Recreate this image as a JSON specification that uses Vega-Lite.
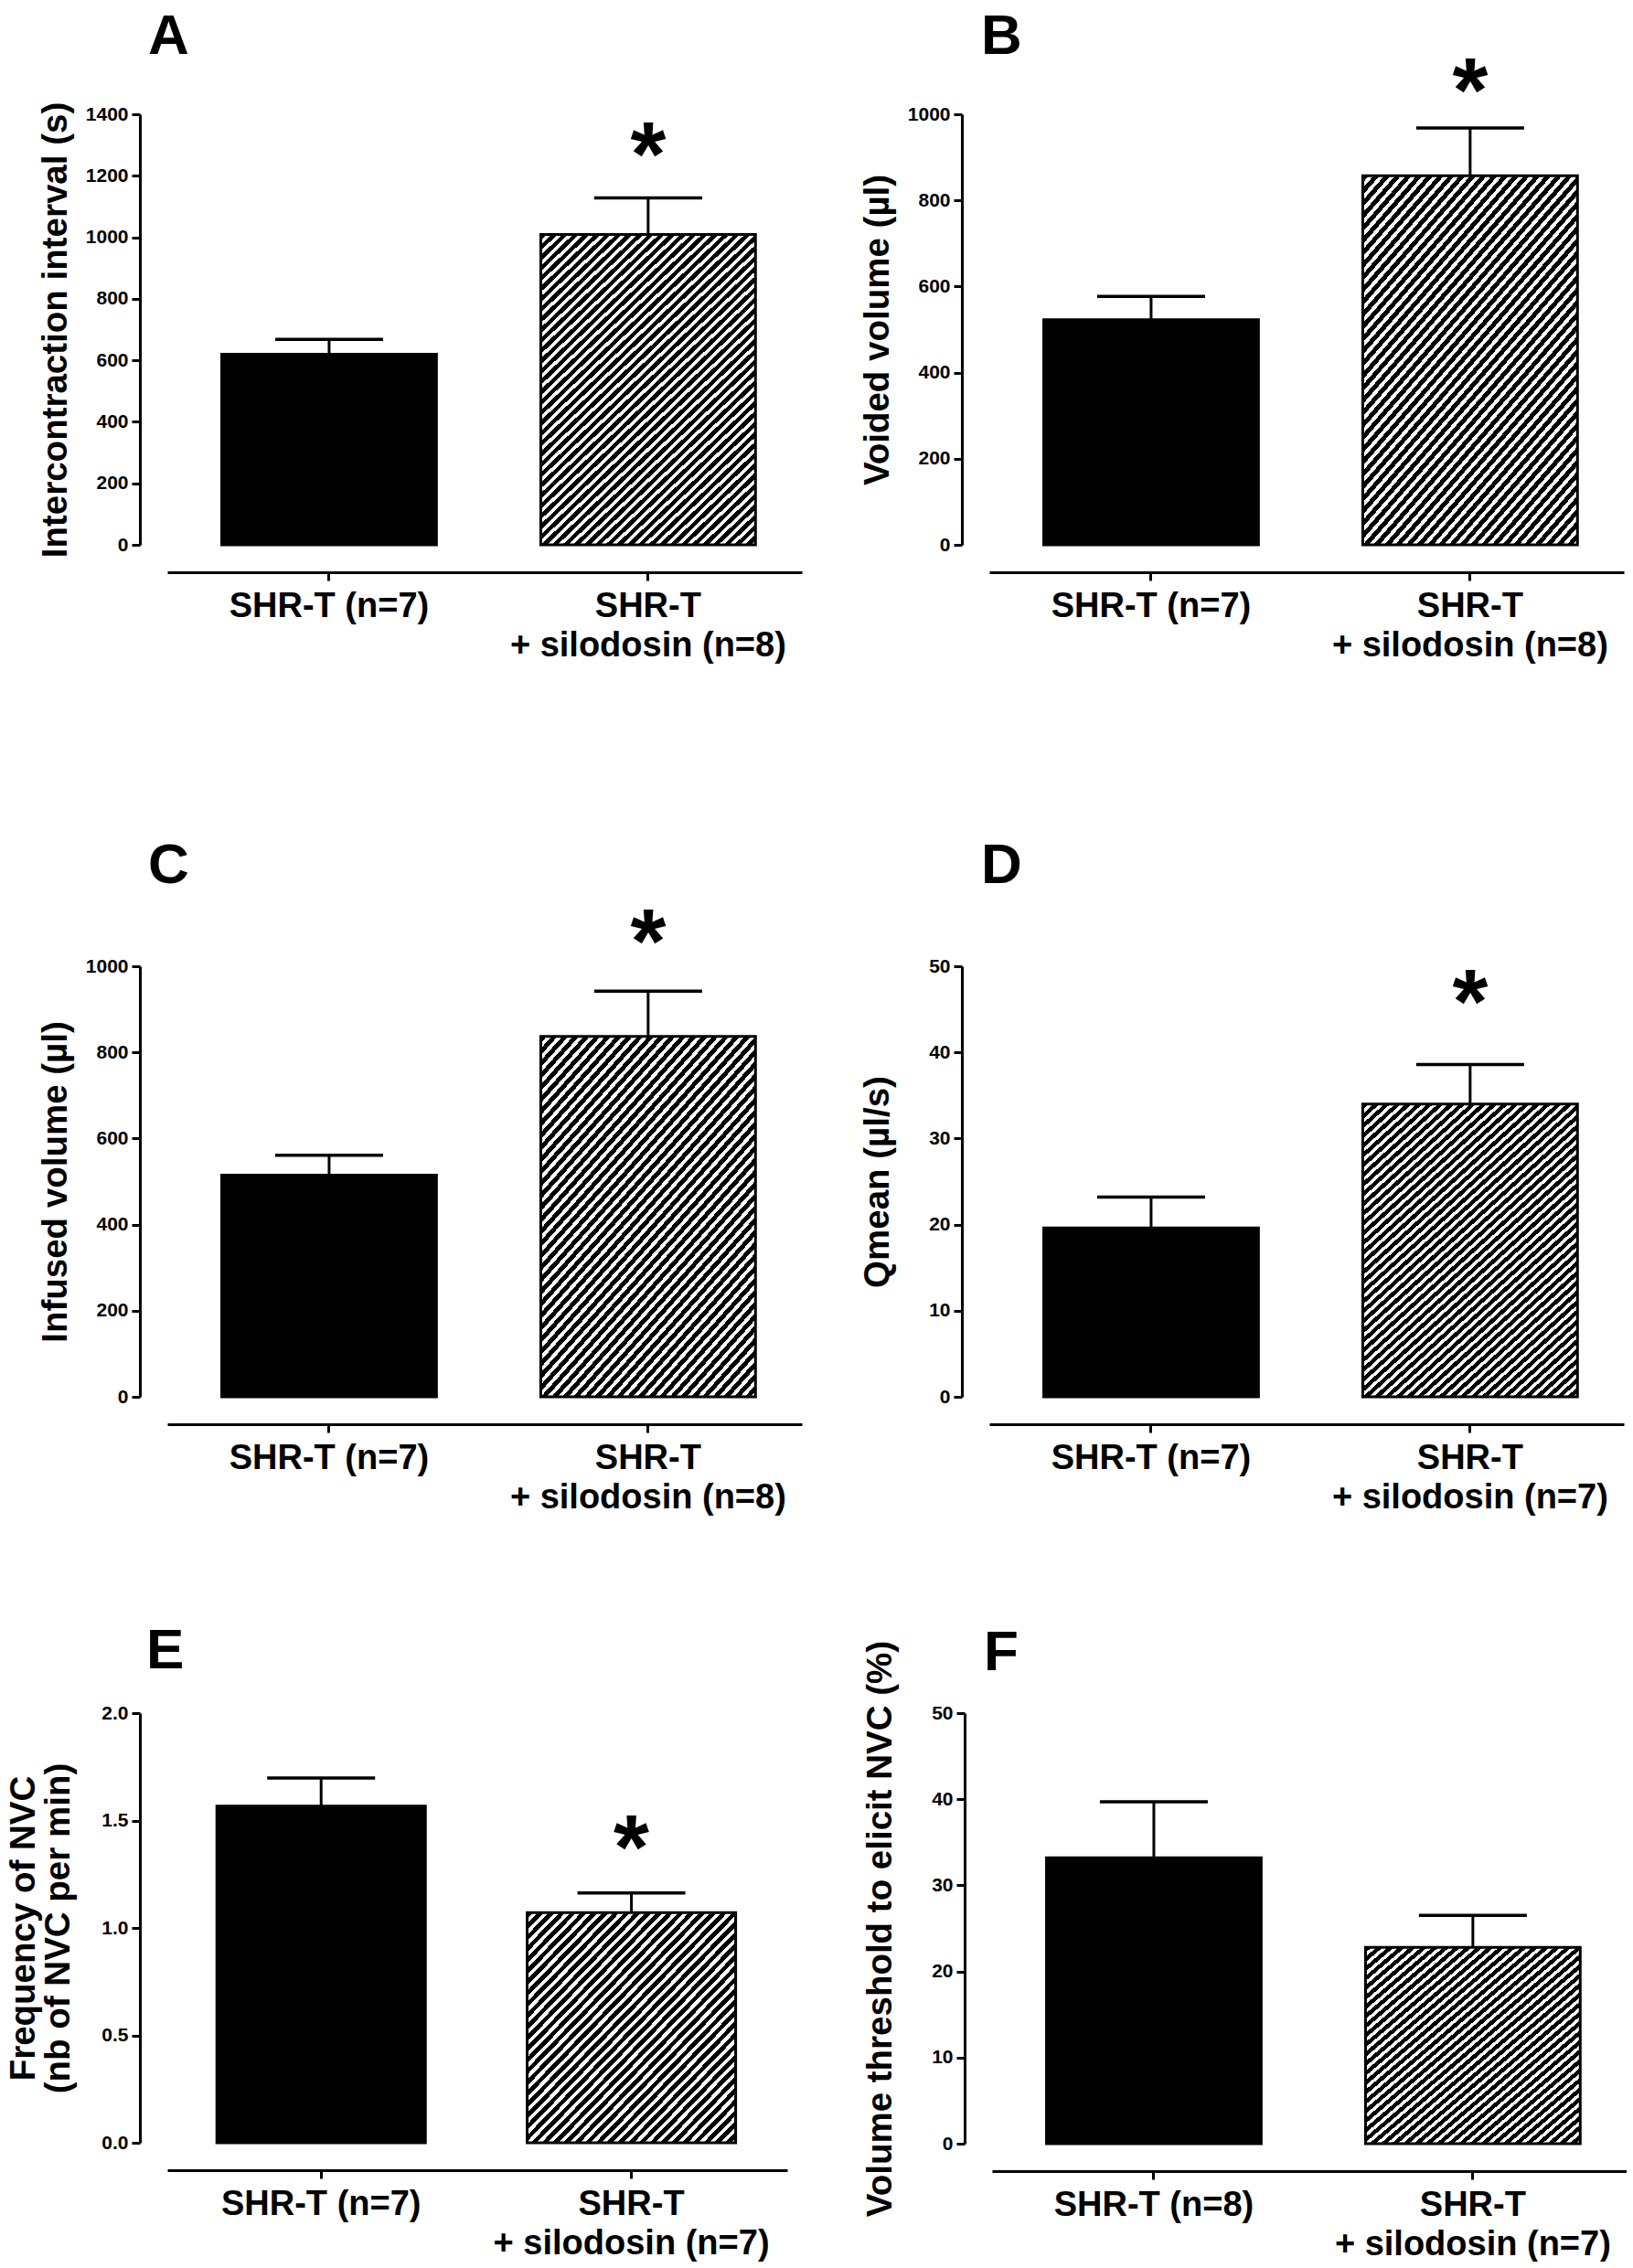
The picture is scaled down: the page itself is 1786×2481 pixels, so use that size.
{
  "$schema": "https://vega.github.io/schema/vega-lite/v6.json",
  "padding": {"top": 9, "left": 5, "right": 0, "bottom": 0},
  "background": "white",
  "spacing": 117,
  "config": {
    "font": "Liberation Sans",
    "view": {"stroke": null},
    "axis": {"grid": false, "domainColor": "black", "domainWidth": 3, "tickColor": "black", "tickWidth": 3, "tickSize": 9, "labelColor": "black", "labelFont": "Liberation Sans", "labelFontWeight": "bold", "titleColor": "black", "titleFont": "Liberation Sans", "titleFontWeight": "bold", "titleFontSize": 38.5, "offset": 30},
    "axisY": {"labelFontSize": 21, "labelPadding": 4, "titleBaseline": "alphabetic", "titleLineHeight": 38},
    "axisX": {"labelFontSize": 38, "labelPadding": 9, "labelLineHeight": 43, "labelAngle": 0, "labelLimit": 0, "labelOverlap": false},
    "title": {"fontSize": 62, "fontWeight": "bold", "font": "Liberation Sans", "anchor": "start", "frame": "group", "baseline": "alphabetic", "color": "black"},
    "text": {"font": "Liberation Sans"},
    "style": {
      "hatchAD": {"color": {"gradient": "linear", "x1": 0, "y1": 0, "x2": 0.7692, "y2": 1.1538, "stops": [
        {"offset":0,"color":"#000"},{"offset":0.0112,"color":"#000"},{"offset":0.0112,"color":"#fff"},{"offset":0.02,"color":"#fff"},
        {"offset":0.02,"color":"#000"},{"offset":0.0312,"color":"#000"},{"offset":0.0312,"color":"#fff"},{"offset":0.04,"color":"#fff"},
        {"offset":0.04,"color":"#000"},{"offset":0.0512,"color":"#000"},{"offset":0.0512,"color":"#fff"},{"offset":0.06,"color":"#fff"},
        {"offset":0.06,"color":"#000"},{"offset":0.0712,"color":"#000"},{"offset":0.0712,"color":"#fff"},{"offset":0.08,"color":"#fff"},
        {"offset":0.08,"color":"#000"},{"offset":0.0912,"color":"#000"},{"offset":0.0912,"color":"#fff"},{"offset":0.1,"color":"#fff"},
        {"offset":0.1,"color":"#000"},{"offset":0.1112,"color":"#000"},{"offset":0.1112,"color":"#fff"},{"offset":0.12,"color":"#fff"},
        {"offset":0.12,"color":"#000"},{"offset":0.1312,"color":"#000"},{"offset":0.1312,"color":"#fff"},{"offset":0.14,"color":"#fff"},
        {"offset":0.14,"color":"#000"},{"offset":0.1512,"color":"#000"},{"offset":0.1512,"color":"#fff"},{"offset":0.16,"color":"#fff"},
        {"offset":0.16,"color":"#000"},{"offset":0.1712,"color":"#000"},{"offset":0.1712,"color":"#fff"},{"offset":0.18,"color":"#fff"},
        {"offset":0.18,"color":"#000"},{"offset":0.1912,"color":"#000"},{"offset":0.1912,"color":"#fff"},{"offset":0.2,"color":"#fff"},
        {"offset":0.2,"color":"#000"},{"offset":0.2112,"color":"#000"},{"offset":0.2112,"color":"#fff"},{"offset":0.22,"color":"#fff"},
        {"offset":0.22,"color":"#000"},{"offset":0.2312,"color":"#000"},{"offset":0.2312,"color":"#fff"},{"offset":0.24,"color":"#fff"},
        {"offset":0.24,"color":"#000"},{"offset":0.2512,"color":"#000"},{"offset":0.2512,"color":"#fff"},{"offset":0.26,"color":"#fff"},
        {"offset":0.26,"color":"#000"},{"offset":0.2712,"color":"#000"},{"offset":0.2712,"color":"#fff"},{"offset":0.28,"color":"#fff"},
        {"offset":0.28,"color":"#000"},{"offset":0.2912,"color":"#000"},{"offset":0.2912,"color":"#fff"},{"offset":0.3,"color":"#fff"},
        {"offset":0.3,"color":"#000"},{"offset":0.3112,"color":"#000"},{"offset":0.3112,"color":"#fff"},{"offset":0.32,"color":"#fff"},
        {"offset":0.32,"color":"#000"},{"offset":0.3312,"color":"#000"},{"offset":0.3312,"color":"#fff"},{"offset":0.34,"color":"#fff"},
        {"offset":0.34,"color":"#000"},{"offset":0.3512,"color":"#000"},{"offset":0.3512,"color":"#fff"},{"offset":0.36,"color":"#fff"},
        {"offset":0.36,"color":"#000"},{"offset":0.3712,"color":"#000"},{"offset":0.3712,"color":"#fff"},{"offset":0.38,"color":"#fff"},
        {"offset":0.38,"color":"#000"},{"offset":0.3912,"color":"#000"},{"offset":0.3912,"color":"#fff"},{"offset":0.4,"color":"#fff"},
        {"offset":0.4,"color":"#000"},{"offset":0.4112,"color":"#000"},{"offset":0.4112,"color":"#fff"},{"offset":0.42,"color":"#fff"},
        {"offset":0.42,"color":"#000"},{"offset":0.4312,"color":"#000"},{"offset":0.4312,"color":"#fff"},{"offset":0.44,"color":"#fff"},
        {"offset":0.44,"color":"#000"},{"offset":0.4512,"color":"#000"},{"offset":0.4512,"color":"#fff"},{"offset":0.46,"color":"#fff"},
        {"offset":0.46,"color":"#000"},{"offset":0.4712,"color":"#000"},{"offset":0.4712,"color":"#fff"},{"offset":0.48,"color":"#fff"},
        {"offset":0.48,"color":"#000"},{"offset":0.4912,"color":"#000"},{"offset":0.4912,"color":"#fff"},{"offset":0.5,"color":"#fff"},
        {"offset":0.5,"color":"#000"},{"offset":0.5112,"color":"#000"},{"offset":0.5112,"color":"#fff"},{"offset":0.52,"color":"#fff"},
        {"offset":0.52,"color":"#000"},{"offset":0.5312,"color":"#000"},{"offset":0.5312,"color":"#fff"},{"offset":0.54,"color":"#fff"},
        {"offset":0.54,"color":"#000"},{"offset":0.5512,"color":"#000"},{"offset":0.5512,"color":"#fff"},{"offset":0.56,"color":"#fff"},
        {"offset":0.56,"color":"#000"},{"offset":0.5712,"color":"#000"},{"offset":0.5712,"color":"#fff"},{"offset":0.58,"color":"#fff"},
        {"offset":0.58,"color":"#000"},{"offset":0.5912,"color":"#000"},{"offset":0.5912,"color":"#fff"},{"offset":0.6,"color":"#fff"},
        {"offset":0.6,"color":"#000"},{"offset":0.6112,"color":"#000"},{"offset":0.6112,"color":"#fff"},{"offset":0.62,"color":"#fff"},
        {"offset":0.62,"color":"#000"},{"offset":0.6312,"color":"#000"},{"offset":0.6312,"color":"#fff"},{"offset":0.64,"color":"#fff"},
        {"offset":0.64,"color":"#000"},{"offset":0.6512,"color":"#000"},{"offset":0.6512,"color":"#fff"},{"offset":0.66,"color":"#fff"},
        {"offset":0.66,"color":"#000"},{"offset":0.6712,"color":"#000"},{"offset":0.6712,"color":"#fff"},{"offset":0.68,"color":"#fff"},
        {"offset":0.68,"color":"#000"},{"offset":0.6912,"color":"#000"},{"offset":0.6912,"color":"#fff"},{"offset":0.7,"color":"#fff"},
        {"offset":0.7,"color":"#000"},{"offset":0.7112,"color":"#000"},{"offset":0.7112,"color":"#fff"},{"offset":0.72,"color":"#fff"},
        {"offset":0.72,"color":"#000"},{"offset":0.7312,"color":"#000"},{"offset":0.7312,"color":"#fff"},{"offset":0.74,"color":"#fff"},
        {"offset":0.74,"color":"#000"},{"offset":0.7512,"color":"#000"},{"offset":0.7512,"color":"#fff"},{"offset":0.76,"color":"#fff"},
        {"offset":0.76,"color":"#000"},{"offset":0.7712,"color":"#000"},{"offset":0.7712,"color":"#fff"},{"offset":0.78,"color":"#fff"},
        {"offset":0.78,"color":"#000"},{"offset":0.7912,"color":"#000"},{"offset":0.7912,"color":"#fff"},{"offset":0.8,"color":"#fff"},
        {"offset":0.8,"color":"#000"},{"offset":0.8112,"color":"#000"},{"offset":0.8112,"color":"#fff"},{"offset":0.82,"color":"#fff"},
        {"offset":0.82,"color":"#000"},{"offset":0.8312,"color":"#000"},{"offset":0.8312,"color":"#fff"},{"offset":0.84,"color":"#fff"},
        {"offset":0.84,"color":"#000"},{"offset":0.8512,"color":"#000"},{"offset":0.8512,"color":"#fff"},{"offset":0.86,"color":"#fff"},
        {"offset":0.86,"color":"#000"},{"offset":0.8712,"color":"#000"},{"offset":0.8712,"color":"#fff"},{"offset":0.88,"color":"#fff"},
        {"offset":0.88,"color":"#000"},{"offset":0.8912,"color":"#000"},{"offset":0.8912,"color":"#fff"},{"offset":0.9,"color":"#fff"},
        {"offset":0.9,"color":"#000"},{"offset":0.9112,"color":"#000"},{"offset":0.9112,"color":"#fff"},{"offset":0.92,"color":"#fff"},
        {"offset":0.92,"color":"#000"},{"offset":0.9312,"color":"#000"},{"offset":0.9312,"color":"#fff"},{"offset":0.94,"color":"#fff"},
        {"offset":0.94,"color":"#000"},{"offset":0.9512,"color":"#000"},{"offset":0.9512,"color":"#fff"},{"offset":0.96,"color":"#fff"},
        {"offset":0.96,"color":"#000"},{"offset":0.9712,"color":"#000"},{"offset":0.9712,"color":"#fff"},{"offset":0.98,"color":"#fff"},
        {"offset":0.98,"color":"#000"},{"offset":0.9912,"color":"#000"},{"offset":0.9912,"color":"#fff"},{"offset":1,"color":"#fff"}
      ]}},
      "hatchEF": {"color": {"gradient": "linear", "x1": 0, "y1": 0, "x2": 0.965, "y2": 1.0326, "stops": [
        {"offset":0,"color":"#000"},{"offset":0.014,"color":"#000"},{"offset":0.014,"color":"#fff"},{"offset":0.025,"color":"#fff"},
        {"offset":0.025,"color":"#000"},{"offset":0.039,"color":"#000"},{"offset":0.039,"color":"#fff"},{"offset":0.05,"color":"#fff"},
        {"offset":0.05,"color":"#000"},{"offset":0.064,"color":"#000"},{"offset":0.064,"color":"#fff"},{"offset":0.075,"color":"#fff"},
        {"offset":0.075,"color":"#000"},{"offset":0.089,"color":"#000"},{"offset":0.089,"color":"#fff"},{"offset":0.1,"color":"#fff"},
        {"offset":0.1,"color":"#000"},{"offset":0.114,"color":"#000"},{"offset":0.114,"color":"#fff"},{"offset":0.125,"color":"#fff"},
        {"offset":0.125,"color":"#000"},{"offset":0.139,"color":"#000"},{"offset":0.139,"color":"#fff"},{"offset":0.15,"color":"#fff"},
        {"offset":0.15,"color":"#000"},{"offset":0.164,"color":"#000"},{"offset":0.164,"color":"#fff"},{"offset":0.175,"color":"#fff"},
        {"offset":0.175,"color":"#000"},{"offset":0.189,"color":"#000"},{"offset":0.189,"color":"#fff"},{"offset":0.2,"color":"#fff"},
        {"offset":0.2,"color":"#000"},{"offset":0.214,"color":"#000"},{"offset":0.214,"color":"#fff"},{"offset":0.225,"color":"#fff"},
        {"offset":0.225,"color":"#000"},{"offset":0.239,"color":"#000"},{"offset":0.239,"color":"#fff"},{"offset":0.25,"color":"#fff"},
        {"offset":0.25,"color":"#000"},{"offset":0.264,"color":"#000"},{"offset":0.264,"color":"#fff"},{"offset":0.275,"color":"#fff"},
        {"offset":0.275,"color":"#000"},{"offset":0.289,"color":"#000"},{"offset":0.289,"color":"#fff"},{"offset":0.3,"color":"#fff"},
        {"offset":0.3,"color":"#000"},{"offset":0.314,"color":"#000"},{"offset":0.314,"color":"#fff"},{"offset":0.325,"color":"#fff"},
        {"offset":0.325,"color":"#000"},{"offset":0.339,"color":"#000"},{"offset":0.339,"color":"#fff"},{"offset":0.35,"color":"#fff"},
        {"offset":0.35,"color":"#000"},{"offset":0.364,"color":"#000"},{"offset":0.364,"color":"#fff"},{"offset":0.375,"color":"#fff"},
        {"offset":0.375,"color":"#000"},{"offset":0.389,"color":"#000"},{"offset":0.389,"color":"#fff"},{"offset":0.4,"color":"#fff"},
        {"offset":0.4,"color":"#000"},{"offset":0.414,"color":"#000"},{"offset":0.414,"color":"#fff"},{"offset":0.425,"color":"#fff"},
        {"offset":0.425,"color":"#000"},{"offset":0.439,"color":"#000"},{"offset":0.439,"color":"#fff"},{"offset":0.45,"color":"#fff"},
        {"offset":0.45,"color":"#000"},{"offset":0.464,"color":"#000"},{"offset":0.464,"color":"#fff"},{"offset":0.475,"color":"#fff"},
        {"offset":0.475,"color":"#000"},{"offset":0.489,"color":"#000"},{"offset":0.489,"color":"#fff"},{"offset":0.5,"color":"#fff"},
        {"offset":0.5,"color":"#000"},{"offset":0.514,"color":"#000"},{"offset":0.514,"color":"#fff"},{"offset":0.525,"color":"#fff"},
        {"offset":0.525,"color":"#000"},{"offset":0.539,"color":"#000"},{"offset":0.539,"color":"#fff"},{"offset":0.55,"color":"#fff"},
        {"offset":0.55,"color":"#000"},{"offset":0.564,"color":"#000"},{"offset":0.564,"color":"#fff"},{"offset":0.575,"color":"#fff"},
        {"offset":0.575,"color":"#000"},{"offset":0.589,"color":"#000"},{"offset":0.589,"color":"#fff"},{"offset":0.6,"color":"#fff"},
        {"offset":0.6,"color":"#000"},{"offset":0.614,"color":"#000"},{"offset":0.614,"color":"#fff"},{"offset":0.625,"color":"#fff"},
        {"offset":0.625,"color":"#000"},{"offset":0.639,"color":"#000"},{"offset":0.639,"color":"#fff"},{"offset":0.65,"color":"#fff"},
        {"offset":0.65,"color":"#000"},{"offset":0.664,"color":"#000"},{"offset":0.664,"color":"#fff"},{"offset":0.675,"color":"#fff"},
        {"offset":0.675,"color":"#000"},{"offset":0.689,"color":"#000"},{"offset":0.689,"color":"#fff"},{"offset":0.7,"color":"#fff"},
        {"offset":0.7,"color":"#000"},{"offset":0.714,"color":"#000"},{"offset":0.714,"color":"#fff"},{"offset":0.725,"color":"#fff"},
        {"offset":0.725,"color":"#000"},{"offset":0.739,"color":"#000"},{"offset":0.739,"color":"#fff"},{"offset":0.75,"color":"#fff"},
        {"offset":0.75,"color":"#000"},{"offset":0.764,"color":"#000"},{"offset":0.764,"color":"#fff"},{"offset":0.775,"color":"#fff"},
        {"offset":0.775,"color":"#000"},{"offset":0.789,"color":"#000"},{"offset":0.789,"color":"#fff"},{"offset":0.8,"color":"#fff"},
        {"offset":0.8,"color":"#000"},{"offset":0.814,"color":"#000"},{"offset":0.814,"color":"#fff"},{"offset":0.825,"color":"#fff"},
        {"offset":0.825,"color":"#000"},{"offset":0.839,"color":"#000"},{"offset":0.839,"color":"#fff"},{"offset":0.85,"color":"#fff"},
        {"offset":0.85,"color":"#000"},{"offset":0.864,"color":"#000"},{"offset":0.864,"color":"#fff"},{"offset":0.875,"color":"#fff"},
        {"offset":0.875,"color":"#000"},{"offset":0.889,"color":"#000"},{"offset":0.889,"color":"#fff"},{"offset":0.9,"color":"#fff"},
        {"offset":0.9,"color":"#000"},{"offset":0.914,"color":"#000"},{"offset":0.914,"color":"#fff"},{"offset":0.925,"color":"#fff"},
        {"offset":0.925,"color":"#000"},{"offset":0.939,"color":"#000"},{"offset":0.939,"color":"#fff"},{"offset":0.95,"color":"#fff"},
        {"offset":0.95,"color":"#000"},{"offset":0.964,"color":"#000"},{"offset":0.964,"color":"#fff"},{"offset":0.975,"color":"#fff"},
        {"offset":0.975,"color":"#000"},{"offset":0.989,"color":"#000"},{"offset":0.989,"color":"#fff"},{"offset":1,"color":"#fff"}
      ]}}
    }
  },
  "vconcat": [
    {
      "columns": 2,
      "spacing": {"row": 191, "column": 62},
      "concat": [
        {
          "width": 694, "height": 471,
          "title": {"text": "A", "offset": 39, "dx": -21},
          "data": {"values": [
            {"group": "SHR-T (n=7)", "treat": "vehicle", "mean": 620, "upper": 668, "sig": ""},
            {"group": "SHR-T\n+ silodosin (n=8)", "treat": "silodosin", "mean": 1009, "upper": 1128, "sig": "*"}
          ]},
          "encoding": {
            "x": {"field": "group", "type": "nominal", "scale": {"domain": ["SHR-T (n=7)", "SHR-T\n+ silodosin (n=8)"], "paddingInner": 0.327, "paddingOuter": 0.158, "align": 0.54}, "axis": {"title": null, "labelExpr": "split(datum.label, '\\n')"}},
            "y": {"field": "mean", "type": "quantitative", "scale": {"domain": [0, 1400], "nice": false}, "axis": {"title": "Intercontraction interval (s)", "titleX": -81, "values": [0, 200, 400, 600, 800, 1000, 1200, 1400], "format": "d"}}
          },
          "layer": [
            {"transform": [{"filter": "datum.treat === 'vehicle'"}], "mark": {"type": "bar", "fill": "black", "stroke": "black", "strokeWidth": 3}},
            {"transform": [{"filter": "datum.treat === 'silodosin'"}], "mark": {"type": "bar", "style": "hatchAD", "stroke": "black", "strokeWidth": 3}},
            {"mark": {"type": "rule", "color": "black", "strokeWidth": 3}, "encoding": {"y2": {"field": "upper"}}},
            {"mark": {"type": "tick", "color": "black", "thickness": 3.5, "size": 118, "opacity": 1}, "encoding": {"y": {"field": "upper", "type": "quantitative"}}},
            {"mark": {"type": "text", "color": "black", "fontSize": 100, "fontWeight": "bold", "baseline": "alphabetic", "dy": -14}, "encoding": {"y": {"field": "upper", "type": "quantitative"}, "text": {"field": "sig"}}}
          ]
        },
        {
          "width": 694, "height": 471,
          "title": {"text": "B", "offset": -19, "dx": -9},
          "data": {"values": [
            {"group": "SHR-T (n=7)", "treat": "vehicle", "mean": 523, "upper": 577, "sig": ""},
            {"group": "SHR-T\n+ silodosin (n=8)", "treat": "silodosin", "mean": 857, "upper": 968, "sig": "*"}
          ]},
          "encoding": {
            "x": {"field": "group", "type": "nominal", "scale": {"domain": ["SHR-T (n=7)", "SHR-T\n+ silodosin (n=8)"], "paddingInner": 0.327, "paddingOuter": 0.158, "align": 0.54}, "axis": {"title": null, "labelExpr": "split(datum.label, '\\n')"}},
            "y": {"field": "mean", "type": "quantitative", "scale": {"domain": [0, 1000], "nice": false}, "axis": {"title": "Voided volume (µl)", "titleX": -81, "values": [0, 200, 400, 600, 800, 1000], "format": "d"}}
          },
          "layer": [
            {"transform": [{"filter": "datum.treat === 'vehicle'"}], "mark": {"type": "bar", "fill": "black", "stroke": "black", "strokeWidth": 3}},
            {"transform": [{"filter": "datum.treat === 'silodosin'"}], "mark": {"type": "bar", "style": "hatchAD", "stroke": "black", "strokeWidth": 3}},
            {"mark": {"type": "rule", "color": "black", "strokeWidth": 3}, "encoding": {"y2": {"field": "upper"}}},
            {"mark": {"type": "tick", "color": "black", "thickness": 3.5, "size": 118, "opacity": 1}, "encoding": {"y": {"field": "upper", "type": "quantitative"}}},
            {"mark": {"type": "text", "color": "black", "fontSize": 100, "fontWeight": "bold", "baseline": "alphabetic", "dy": -7}, "encoding": {"y": {"field": "upper", "type": "quantitative"}, "text": {"field": "sig"}}}
          ]
        },
        {
          "width": 694, "height": 471,
          "title": {"text": "C", "offset": 5, "dx": -21},
          "data": {"values": [
            {"group": "SHR-T (n=7)", "treat": "vehicle", "mean": 515, "upper": 561, "sig": ""},
            {"group": "SHR-T\n+ silodosin (n=8)", "treat": "silodosin", "mean": 837, "upper": 942, "sig": "*"}
          ]},
          "encoding": {
            "x": {"field": "group", "type": "nominal", "scale": {"domain": ["SHR-T (n=7)", "SHR-T\n+ silodosin (n=8)"], "paddingInner": 0.327, "paddingOuter": 0.158, "align": 0.54}, "axis": {"title": null, "labelExpr": "split(datum.label, '\\n')"}},
            "y": {"field": "mean", "type": "quantitative", "scale": {"domain": [0, 1000], "nice": false}, "axis": {"title": "Infused volume (µl)", "titleX": -81, "values": [0, 200, 400, 600, 800, 1000], "format": "d"}}
          },
          "layer": [
            {"transform": [{"filter": "datum.treat === 'vehicle'"}], "mark": {"type": "bar", "fill": "black", "stroke": "black", "strokeWidth": 3}},
            {"transform": [{"filter": "datum.treat === 'silodosin'"}], "mark": {"type": "bar", "style": "hatchAD", "stroke": "black", "strokeWidth": 3}},
            {"mark": {"type": "rule", "color": "black", "strokeWidth": 3}, "encoding": {"y2": {"field": "upper"}}},
            {"mark": {"type": "tick", "color": "black", "thickness": 3.5, "size": 118, "opacity": 1}, "encoding": {"y": {"field": "upper", "type": "quantitative"}}},
            {"mark": {"type": "text", "color": "black", "fontSize": 100, "fontWeight": "bold", "baseline": "alphabetic", "dy": -20}, "encoding": {"y": {"field": "upper", "type": "quantitative"}, "text": {"field": "sig"}}}
          ]
        },
        {
          "width": 694, "height": 471,
          "title": {"text": "D", "offset": 67, "dx": -9},
          "data": {"values": [
            {"group": "SHR-T (n=7)", "treat": "vehicle", "mean": 19.6, "upper": 23.2, "sig": ""},
            {"group": "SHR-T\n+ silodosin (n=7)", "treat": "silodosin", "mean": 34.0, "upper": 38.6, "sig": "*"}
          ]},
          "encoding": {
            "x": {"field": "group", "type": "nominal", "scale": {"domain": ["SHR-T (n=7)", "SHR-T\n+ silodosin (n=7)"], "paddingInner": 0.327, "paddingOuter": 0.158, "align": 0.54}, "axis": {"title": null, "labelExpr": "split(datum.label, '\\n')"}},
            "y": {"field": "mean", "type": "quantitative", "scale": {"domain": [0, 50], "nice": false}, "axis": {"title": "Qmean (µl/s)", "titleX": -81, "values": [0, 10, 20, 30, 40, 50], "format": "d"}}
          },
          "layer": [
            {"transform": [{"filter": "datum.treat === 'vehicle'"}], "mark": {"type": "bar", "fill": "black", "stroke": "black", "strokeWidth": 3}},
            {"transform": [{"filter": "datum.treat === 'silodosin'"}], "mark": {"type": "bar", "style": "hatchAD", "stroke": "black", "strokeWidth": 3}},
            {"mark": {"type": "rule", "color": "black", "strokeWidth": 3}, "encoding": {"y2": {"field": "upper"}}},
            {"mark": {"type": "tick", "color": "black", "thickness": 3.5, "size": 118, "opacity": 1}, "encoding": {"y": {"field": "upper", "type": "quantitative"}}},
            {"mark": {"type": "text", "color": "black", "fontSize": 100, "fontWeight": "bold", "baseline": "alphabetic", "dy": -34}, "encoding": {"y": {"field": "upper", "type": "quantitative"}, "text": {"field": "sig"}}}
          ]
        }
      ]
    },
    {
      "spacing": 81,
      "hconcat": [
        {
          "width": 678, "height": 470,
          "title": {"text": "E", "offset": 11, "dx": -23},
          "data": {"values": [
            {"group": "SHR-T (n=7)", "treat": "vehicle", "mean": 1.567, "upper": 1.698, "sig": ""},
            {"group": "SHR-T\n+ silodosin (n=7)", "treat": "silodosin", "mean": 1.071, "upper": 1.163, "sig": "*"}
          ]},
          "encoding": {
            "x": {"field": "group", "type": "nominal", "scale": {"domain": ["SHR-T (n=7)", "SHR-T\n+ silodosin (n=7)"], "paddingInner": 0.328, "paddingOuter": 0.163, "align": 0.49}, "axis": {"title": null, "labelExpr": "split(datum.label, '\\n')"}},
            "y": {"field": "mean", "type": "quantitative", "scale": {"domain": [0, 2], "nice": false}, "axis": {"title": ["Frequency of NVC", "(nb of NVC per min)"], "titleX": -116, "values": [0, 0.5, 1, 1.5, 2], "format": ".1f"}}
          },
          "layer": [
            {"transform": [{"filter": "datum.treat === 'vehicle'"}], "mark": {"type": "bar", "fill": "black", "stroke": "black", "strokeWidth": 3}},
            {"transform": [{"filter": "datum.treat === 'silodosin'"}], "mark": {"type": "bar", "style": "hatchEF", "stroke": "black", "strokeWidth": 3}},
            {"mark": {"type": "rule", "color": "black", "strokeWidth": 3}, "encoding": {"y2": {"field": "upper"}}},
            {"mark": {"type": "tick", "color": "black", "thickness": 3.5, "size": 118, "opacity": 1}, "encoding": {"y": {"field": "upper", "type": "quantitative"}}},
            {"mark": {"type": "text", "color": "black", "fontSize": 100, "fontWeight": "bold", "baseline": "alphabetic", "dy": -16}, "encoding": {"y": {"field": "upper", "type": "quantitative"}, "text": {"field": "sig"}}}
          ]
        },
        {
          "width": 694, "height": 471,
          "title": {"text": "F", "offset": -45.5, "dx": -9},
          "data": {"values": [
            {"group": "SHR-T (n=8)", "treat": "vehicle", "mean": 33.2, "upper": 39.7, "sig": ""},
            {"group": "SHR-T\n+ silodosin (n=7)", "treat": "silodosin", "mean": 22.8, "upper": 26.5, "sig": ""}
          ]},
          "encoding": {
            "x": {"field": "group", "type": "nominal", "scale": {"domain": ["SHR-T (n=8)", "SHR-T\n+ silodosin (n=7)"], "paddingInner": 0.327, "paddingOuter": 0.158, "align": 0.54}, "axis": {"title": null, "labelExpr": "split(datum.label, '\\n')"}},
            "y": {"field": "mean", "type": "quantitative", "scale": {"domain": [0, 50], "nice": false}, "axis": {"title": "Volume threshold to elicit NVC (%)", "titleX": -81, "values": [0, 10, 20, 30, 40, 50], "format": "d"}}
          },
          "layer": [
            {"transform": [{"filter": "datum.treat === 'vehicle'"}], "mark": {"type": "bar", "fill": "black", "stroke": "black", "strokeWidth": 3}},
            {"transform": [{"filter": "datum.treat === 'silodosin'"}], "mark": {"type": "bar", "style": "hatchEF", "stroke": "black", "strokeWidth": 3}},
            {"mark": {"type": "rule", "color": "black", "strokeWidth": 3}, "encoding": {"y2": {"field": "upper"}}},
            {"mark": {"type": "tick", "color": "black", "thickness": 3.5, "size": 118, "opacity": 1}, "encoding": {"y": {"field": "upper", "type": "quantitative"}}}
          ]
        }
      ]
    }
  ]
}
